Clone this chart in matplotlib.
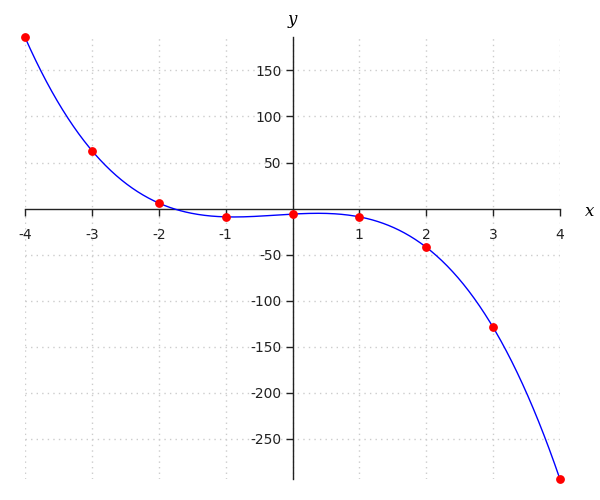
import numpy as np
import matplotlib
matplotlib.use('Agg')
import matplotlib.pyplot as plt

# values
x_pts = [-4, -3, -2, -1, 0, 1, 2, 3, 4]
y_pts = [186, 63, 6, -9, -6, -9, -42, -129, -294]
x_ticks = [-4, -3, -2, -1, 1, 2, 3, 4]
y_ticks = [-250, -200, -150, -100, -50, 50, 100, 150]

fig = plt.figure(figsize=(6, 5), dpi=100)
ax = fig.add_axes([25 / 600, 20.7 / 500, 535 / 600, 442 / 500])

# smooth curve through the points (cubic least-squares fit)
coef = np.polyfit(x_pts, y_pts, 3)
xs = np.linspace(min(x_pts), max(x_pts), 400)
ax.plot(xs, np.polyval(coef, xs), color='blue', lw=1, zorder=3)
ax.plot(x_pts, y_pts, 'o', color='red', ms=5.3, zorder=4, clip_on=False)

ax.set_xlim(-4, 4)
ax.set_ylim(-294, 186)

# axes through the origin
ax.spines['left'].set_position(('data', 0))
ax.spines['bottom'].set_position(('data', 0))
ax.spines['right'].set_visible(False)
ax.spines['top'].set_visible(False)
for s in ('left', 'bottom'):
    ax.spines[s].set_color('#222222')
    ax.spines[s].set_linewidth(1)

ax.set_xticks(x_ticks)
ax.set_xticklabels([str(v) for v in x_ticks])
ax.set_yticks(y_ticks)
ax.set_yticklabels([str(v) for v in y_ticks])
ax.tick_params(axis='x', direction='out', length=5, width=1, pad=9,
               labelsize=10, colors='#222222')
ax.tick_params(axis='y', direction='out', length=5, width=1, pad=3,
               labelsize=10, colors='#222222')

# dotted grid at every integer x and every y tick
for v in x_pts:
    ax.axvline(v, color='#cccccc', lw=1, ls=(0, (1, 3)), zorder=1)
for v in y_ticks:
    ax.axhline(v, color='#cccccc', lw=1, ls=(0, (1, 3)), zorder=1)

ax.text(292.5 / 600, 480 / 500, 'y', transform=fig.transFigure,
        family='DejaVu Serif', style='italic', fontsize=12,
        ha='center', va='center')
ax.text(590 / 600, 289 / 500, 'x', transform=fig.transFigure,
        family='DejaVu Serif', style='italic', fontsize=12,
        ha='center', va='center')

fig.savefig('out.png', dpi=100)
plt.close(fig)
